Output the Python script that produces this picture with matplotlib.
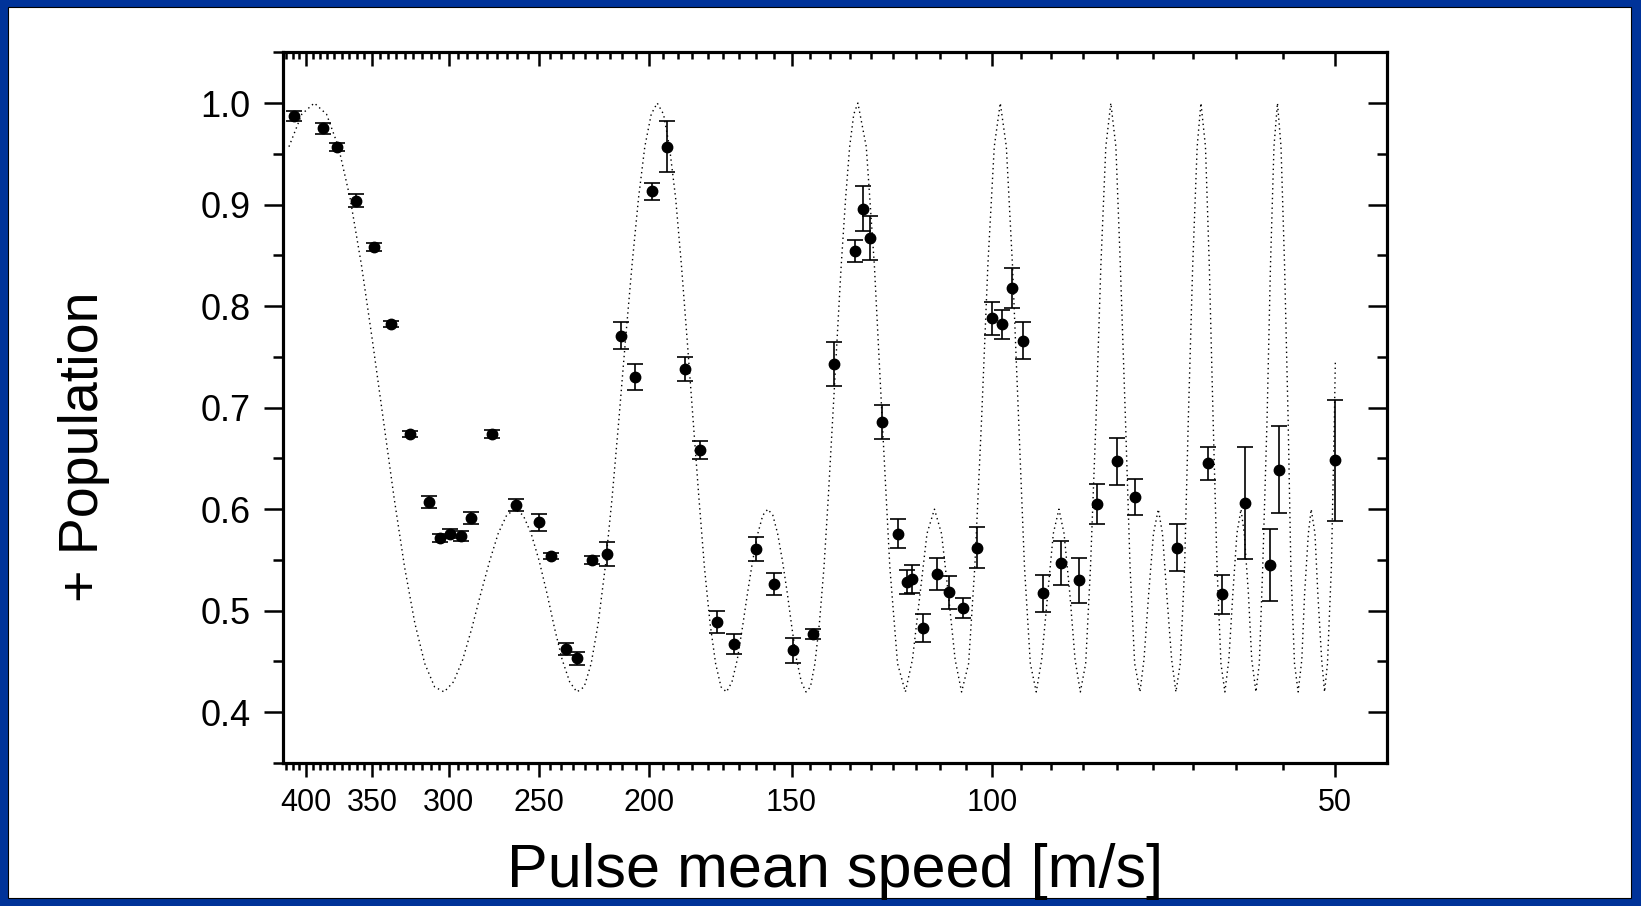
import numpy as np
import matplotlib
matplotlib.use("Agg")
import matplotlib.pyplot as plt
from matplotlib.patches import Rectangle
from matplotlib.ticker import FixedLocator, NullFormatter

plt.rcParams['font.family'] = ['Liberation Sans', 'DejaVu Sans']

# measured points: pulse mean speed [m/s], + population, error
speed = [409.6, 386.9, 375.8, 361.6, 348.9, 337.3, 324.0, 311.9, 305.4, 299.0,
         292.8, 286.6, 274.9, 261.8, 249.9, 243.8, 236.7, 231.3, 224.5, 217.9,
         211.9, 205.9, 199.0, 193.0, 186.0, 180.5, 174.5, 168.5, 161.3, 155.3,
         149.5, 143.7, 137.8, 132.0, 129.8, 127.9, 124.9, 121.0, 118.9, 117.7,
         115.0, 111.9, 109.1, 106.0, 103.2, 100.0, 98.0, 96.1, 94.0, 90.3,
         87.1, 84.0, 80.9, 77.7, 75.0, 68.8, 64.7, 62.9, 60.0, 57.1,
         56.0, 50.0]
population = [0.987, 0.975, 0.957, 0.904, 0.858, 0.782, 0.674, 0.607, 0.572, 0.576,
              0.574, 0.591, 0.674, 0.604, 0.587, 0.554, 0.462, 0.453, 0.550, 0.556,
              0.771, 0.730, 0.913, 0.957, 0.738, 0.658, 0.489, 0.467, 0.561, 0.526,
              0.461, 0.477, 0.743, 0.854, 0.896, 0.867, 0.686, 0.576, 0.528, 0.531,
              0.483, 0.536, 0.518, 0.503, 0.562, 0.788, 0.782, 0.818, 0.766, 0.517,
              0.547, 0.530, 0.605, 0.647, 0.612, 0.562, 0.645, 0.516, 0.606, 0.545,
              0.639, 0.648]
error = [0.005, 0.005, 0.004, 0.006, 0.004, 0.003, 0.003, 0.006, 0.004, 0.004,
         0.005, 0.006, 0.004, 0.006, 0.008, 0.003, 0.006, 0.006, 0.004, 0.012,
         0.013, 0.013, 0.008, 0.025, 0.012, 0.009, 0.011, 0.010, 0.012, 0.011,
         0.012, 0.005, 0.022, 0.011, 0.022, 0.022, 0.017, 0.014, 0.012, 0.014,
         0.014, 0.016, 0.016, 0.010, 0.020, 0.016, 0.014, 0.020, 0.018, 0.018,
         0.022, 0.022, 0.020, 0.023, 0.018, 0.023, 0.016, 0.019, 0.055, 0.035,
         0.043, 0.060]

# theory curve
curve_speed = [414.2, 403.6,
               393.5, 383.9, 374.8, 366.0, 357.7, 349.8, 342.2, 334.9, 327.9, 321.2,
               314.8, 308.6, 302.7, 297.0, 291.5, 286.2, 281.1, 276.1, 271.4, 266.8,
               262.3, 258.0, 253.9, 249.8, 245.9, 242.2, 238.5, 234.9, 231.5, 228.1,
               224.9, 221.7, 218.6, 215.6, 212.7, 209.9, 207.1, 204.4, 201.8, 199.2,
               196.8, 194.3, 192.0, 189.6, 187.4, 185.2, 183.0, 180.9, 178.9, 176.9,
               174.9, 173.0, 171.1, 169.2, 167.4, 165.7, 164.0, 162.3, 160.6, 159.0,
               157.4, 155.8, 154.3, 152.8, 151.3, 149.9, 148.5, 147.1, 145.7, 144.4,
               143.1, 141.8, 140.5, 139.3, 138.1, 136.9, 135.7, 134.5, 133.4, 132.3,
               131.2, 129.0, 126.9, 124.9, 123.0, 121.1, 119.2, 117.5, 115.7,
               114.1, 112.4, 110.8, 109.3, 107.8, 106.4, 104.9, 103.6, 102.2, 100.9,
               99.6, 98.4, 97.2, 96.0, 94.8, 93.7, 92.6, 91.5, 90.5, 89.4,
               88.4, 87.4, 86.5, 85.5, 84.6, 83.7, 82.8, 82.0, 81.1, 80.3,
               79.5, 78.7, 77.9, 77.2, 76.4, 75.7, 75.0, 74.2, 73.6, 72.9,
               72.2, 71.5, 70.9, 70.3, 69.6, 69.0, 68.4, 67.8, 67.3, 66.7,
               66.1, 65.6, 65.0, 64.5, 64.0, 63.5, 63.0, 62.5, 62.0, 61.5,
               61.0, 60.5, 60.1, 59.6, 59.2, 58.7, 58.3, 57.9, 57.4, 57.0,
               56.6, 56.2, 55.8, 55.4, 55.0, 54.7, 54.3, 53.9, 53.5, 53.2,
               52.8, 52.5, 52.1, 51.8, 51.4, 51.1, 50.8, 50.4, 50.1, 50.0]
curve_pop = [0.957, 0.989,
             1.000, 0.989, 0.957, 0.906, 0.840, 0.765, 0.687, 0.611, 0.543, 0.488,
             0.448, 0.425, 0.420, 0.430, 0.452, 0.483, 0.517, 0.549, 0.576, 0.594,
             0.600, 0.594, 0.576, 0.549, 0.517, 0.483, 0.452, 0.430, 0.420, 0.425,
             0.448, 0.488, 0.543, 0.611, 0.687, 0.765, 0.840, 0.906, 0.957, 0.989,
             1.000, 0.989, 0.957, 0.906, 0.840, 0.765, 0.687, 0.611, 0.543, 0.488,
             0.448, 0.425, 0.420, 0.430, 0.452, 0.483, 0.517, 0.549, 0.576, 0.594,
             0.600, 0.594, 0.576, 0.549, 0.517, 0.483, 0.452, 0.430, 0.420, 0.425,
             0.448, 0.488, 0.543, 0.611, 0.687, 0.765, 0.840, 0.906, 0.957, 0.989,
             1.000, 0.957, 0.840, 0.687, 0.543, 0.448, 0.420, 0.452, 0.517,
             0.576, 0.600, 0.576, 0.517, 0.452, 0.420, 0.448, 0.543, 0.687, 0.840,
             0.957, 1.000, 0.957, 0.840, 0.687, 0.543, 0.448, 0.420, 0.452, 0.517,
             0.576, 0.600, 0.576, 0.517, 0.452, 0.420, 0.448, 0.543, 0.687, 0.840,
             0.957, 1.000, 0.957, 0.840, 0.687, 0.543, 0.448, 0.420, 0.452, 0.517,
             0.576, 0.600, 0.576, 0.517, 0.452, 0.420, 0.448, 0.543, 0.687, 0.840,
             0.957, 1.000, 0.957, 0.840, 0.687, 0.543, 0.448, 0.420, 0.452, 0.517,
             0.576, 0.600, 0.576, 0.517, 0.452, 0.420, 0.448, 0.543, 0.687, 0.840,
             0.957, 1.000, 0.957, 0.840, 0.687, 0.543, 0.448, 0.420, 0.452, 0.517,
             0.576, 0.600, 0.576, 0.517, 0.452, 0.420, 0.448, 0.543, 0.687, 0.745]

x_major = [400, 350, 300, 250, 200, 150, 100, 50]
y_major = [0.4, 0.5, 0.6, 0.7, 0.8, 0.9, 1.0]

fig = plt.figure(figsize=(16.41, 9.06), dpi=100)
fig.patch.set_facecolor('#003399')
fig.add_artist(Rectangle((0.0046, 0.0088), 0.9891, 0.9835, transform=fig.transFigure,
                         facecolor='white', edgecolor='black', linewidth=0.8, zorder=0))

ax = fig.add_axes([0.1726, 0.1578, 0.6729, 0.7845])
ax.set_facecolor('white')

ax.plot(curve_speed, curve_pop, color='black', linewidth=1.0,
        linestyle=(0, (1, 2.5)), zorder=2)
ax.errorbar(speed, population, yerr=error, fmt='o', color='black', markersize=7.5,
            elinewidth=1.2, capsize=6, capthick=1.2, zorder=3)

ax.set_xscale('log')
ax.set_xlim(419, 45)
ax.set_ylim(0.35, 1.05)

# minor ticks: 8 between each pair of majors
x_minor = []
for hi, lo in zip([450] + x_major[:-1], x_major):
    x_minor += list(np.linspace(lo, hi, 10)[1:-1])
y_minor = [0.35, 0.45, 0.55, 0.65, 0.75, 0.85, 0.95, 1.05]


def set_ticks(a):
    a.xaxis.set_major_locator(FixedLocator(x_major))
    a.xaxis.set_minor_locator(FixedLocator(x_minor))
    a.xaxis.set_minor_formatter(NullFormatter())
    a.yaxis.set_major_locator(FixedLocator(y_major))
    a.yaxis.set_minor_locator(FixedLocator(y_minor))


set_ticks(ax)
ax.set_xticklabels([str(v) for v in x_major])
ax.set_yticklabels(['%.1f' % v for v in y_major])

for s in ax.spines.values():
    s.set_linewidth(2.2)

ax.tick_params(axis='x', which='major', direction='out', length=10, width=1.8,
               labelsize=22, pad=8, top=False)
ax.tick_params(axis='x', which='minor', direction='out', length=5, width=1.8, top=False)
ax.tick_params(axis='y', which='major', direction='out', length=13.5, width=1.8,
               labelsize=26, pad=10, right=False)
ax.tick_params(axis='y', which='minor', direction='out', length=7.5, width=1.8, right=False)

# top axis with inward ticks
axt = ax.twiny()
axt.set_xscale('log')
axt.set_xlim(419, 45)
set_ticks(axt)
axt.tick_params(axis='x', which='major', direction='in', length=10, width=1.8,
                labeltop=False, top=True, bottom=False)
axt.tick_params(axis='x', which='minor', direction='in', length=5, width=1.8,
                top=True, bottom=False)

# right axis with inward ticks
axr = ax.twinx()
axr.set_ylim(0.35, 1.05)
axr.yaxis.set_major_locator(FixedLocator(y_major))
axr.yaxis.set_minor_locator(FixedLocator(y_minor))
axr.tick_params(axis='y', which='major', direction='in', length=13.5, width=1.8,
                labelright=False, right=True, left=False)
axr.tick_params(axis='y', which='minor', direction='in', length=7.5, width=1.8,
                right=True, left=False)
for a in (axt, axr):
    for s in a.spines.values():
        s.set_linewidth(2.2)

ax.set_xlabel('Pulse mean speed [m/s]', fontsize=44)
ax.xaxis.label.set_va('baseline')
ax.xaxis.set_label_coords(0.5, -0.175)
ax.set_ylabel('+ Population', fontsize=40)
ax.yaxis.label.set_va('center')
ax.yaxis.set_label_coords(-0.1805, 0.4455)

fig.savefig('out.png', dpi=100, facecolor=fig.get_facecolor())
